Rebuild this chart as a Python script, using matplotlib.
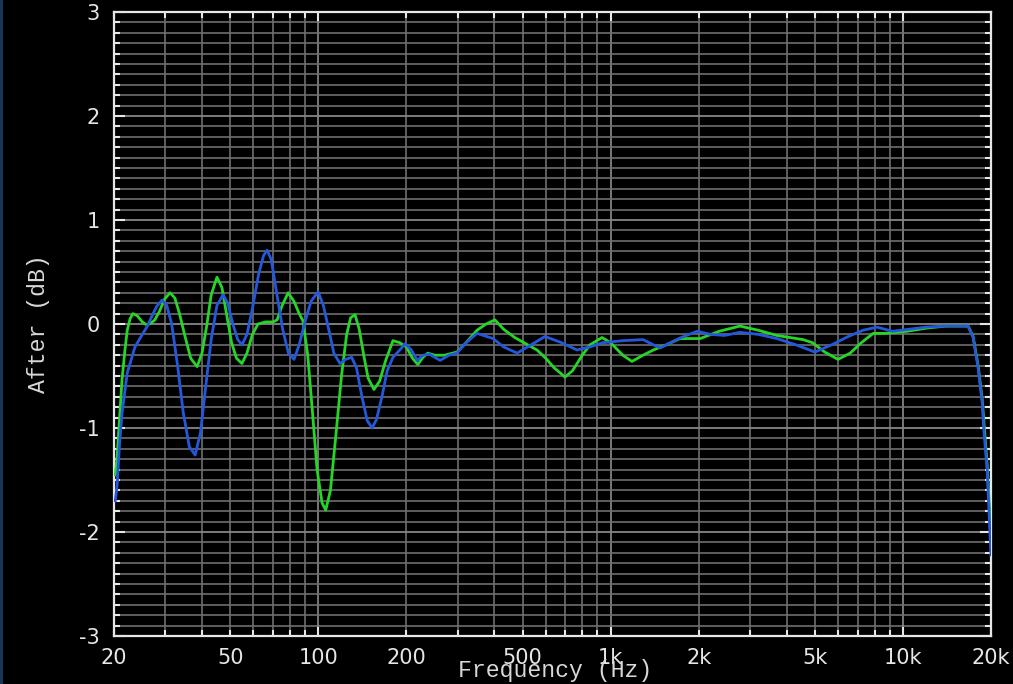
import matplotlib
matplotlib.use('Agg')
import matplotlib.pyplot as plt
from matplotlib.ticker import MultipleLocator, FixedLocator, NullFormatter
from matplotlib.patches import Rectangle

plt.rcParams['axes.unicode_minus'] = False

# green trace (Hz, dB)
freq_green = [20.2, 20.5, 20.9, 21.3, 21.8, 22.2, 22.7, 23.2, 24.0, 25.0, 25.9, 26.8, 27.6, 28.6, 29.8,
              31.1, 32.3, 33.5, 35.0, 36.6, 38.5, 40.0, 41.5, 43.0, 45.0, 46.8, 48.5, 50.5, 52.5, 54.8,
              57.0, 59.5, 62.2, 66.0, 70.0, 72.3, 75.0, 78.8, 82.5, 86.0, 88.6, 92.0, 95.5, 99.0, 103.0,
              106.0, 110.0, 115.0, 120.0, 125.0, 129.0, 133.5, 138.0, 143.0, 148.0, 155.0, 162.0, 170.0,
              180.0, 190.0, 200.0, 210.0, 219.0, 228.0, 237.0, 250.0, 270.0, 298.0, 320.0, 349.0, 375.0,
              402.0, 430.0, 470.0, 520.0, 560.0, 600.0, 640.0, 698.0, 740.0, 800.0, 850.0, 934.0, 1000.0,
              1100.0, 1183.0, 1290.0, 1400.0, 1550.0, 1726.0, 2024.0, 2350.0, 2770.0, 3200.0, 3700.0,
              4550.0, 4900.0, 5400.0, 5995.0, 6600.0, 7200.0, 7910.0, 8700.0, 10330.0, 12000.0, 14000.0,
              16000.0, 16700.0, 17370.0, 18070.0, 18650.0, 19400.0, 19700.0, 20000.0]
db_green = [-1.45, -1.28, -0.90, -0.54, -0.25, -0.06, 0.05, 0.10, 0.08, 0.02, -0.01, 0.01, 0.04, 0.12, 0.24,
            0.30, 0.25, 0.10, -0.12, -0.33, -0.41, -0.28, -0.02, 0.28, 0.45, 0.35, 0.10, -0.18, -0.33, -0.38,
            -0.28, -0.10, 0.00, 0.02, 0.02, 0.04, 0.17, 0.30, 0.22, 0.10, 0.03, -0.30, -0.85, -1.40, -1.72,
            -1.79, -1.60, -1.05, -0.50, -0.10, 0.06, 0.09, -0.05, -0.30, -0.52, -0.63, -0.55, -0.35,
            -0.16, -0.18, -0.22, -0.33, -0.39, -0.32, -0.28, -0.30, -0.30, -0.27, -0.18, -0.06, 0.00,
            0.04, -0.05, -0.13, -0.20, -0.25, -0.33, -0.42, -0.51, -0.45, -0.30, -0.20, -0.13, -0.18,
            -0.30, -0.36, -0.30, -0.25, -0.20, -0.14, -0.14, -0.07, -0.02, -0.06, -0.11,
            -0.15, -0.18, -0.27, -0.34, -0.28, -0.18, -0.09, -0.09, -0.07, -0.04, -0.02,
            -0.02, -0.02, -0.12, -0.40, -0.72, -1.35, -1.70, -1.95]

# blue trace (Hz, dB)
freq_blue = [20.2, 20.5, 20.9, 21.3, 22.2, 23.6, 25.0, 25.9, 27.0, 28.0, 29.2, 30.3, 31.5, 33.0, 34.5,
             36.2, 37.9, 39.5, 41.0, 43.0, 45.0, 47.2, 49.0, 51.0, 53.0, 54.8, 57.0, 59.5, 62.5, 65.0,
             66.8, 69.0, 72.0, 75.5, 79.0, 82.6, 86.0, 90.0, 94.5, 99.8, 104.0, 108.5, 113.0, 118.6,
             124.0, 130.0, 135.0, 141.0, 147.0, 152.7, 158.0, 165.0, 172.0, 180.0, 190.0, 198.0, 208.0,
             218.0, 228.0, 240.0, 250.0, 261.0, 280.0, 298.0, 320.0, 349.0, 396.0, 430.0, 479.0, 520.0,
             596.0, 680.0, 767.0, 850.0, 940.0, 1100.0, 1291.0, 1400.0, 1476.0, 1726.0, 1975.0, 2200.0,
             2450.0, 2770.0, 3200.0, 3700.0, 4300.0, 5000.0, 5700.0, 6500.0, 7300.0, 8150.0, 9200.0,
             10500.0, 12000.0, 14000.0, 16700.0, 17370.0, 18070.0, 18650.0, 18940.0, 19400.0, 19860.0,
             20000.0]
db_blue = [-1.70, -1.55, -1.15, -0.86, -0.47, -0.22, -0.10, -0.03, 0.08, 0.17, 0.23, 0.18, 0.00, -0.40, -0.85,
           -1.18, -1.26, -1.05, -0.65, -0.15, 0.18, 0.28, 0.20, 0.00, -0.15, -0.20, -0.10, 0.15, 0.48, 0.66,
           0.71, 0.62, 0.30, -0.05, -0.28, -0.34, -0.20, 0.02, 0.22, 0.31, 0.18, -0.05, -0.28, -0.38,
           -0.34, -0.32, -0.42, -0.70, -0.93, -1.00, -0.92, -0.70, -0.45, -0.32, -0.25, -0.19, -0.25,
           -0.35, -0.30, -0.29, -0.32, -0.35, -0.30, -0.28, -0.18, -0.09, -0.14, -0.22, -0.28, -0.22,
           -0.12, -0.18, -0.25, -0.22, -0.18, -0.16, -0.15, -0.20, -0.23, -0.135, -0.07, -0.10,
           -0.11, -0.08, -0.10, -0.14, -0.20, -0.27, -0.20, -0.12, -0.06, -0.03, -0.07,
           -0.05, -0.03, -0.02, -0.02, -0.13, -0.42, -0.75, -1.05, -1.40, -2.05,
           -2.22]

label_freqs = [20, 50, 100, 200, 500, 1000, 2000, 5000, 10000, 20000]
label_texts = ['20', '50', '100', '200', '500', '1k', '2k', '5k', '10k', '20k']
other_freqs = [30, 40, 60, 70, 80, 90, 300, 400, 600, 700, 800, 900,
               3000, 4000, 6000, 7000, 8000, 9000]
decades = [100, 1000, 10000]

fig = plt.figure(figsize=(10.13, 6.84), dpi=100, facecolor='black')
ax = fig.add_axes([114/1013, 1-636/684, 877/1013, 624/684])
ax.set_facecolor('black')
fig.patches.append(Rectangle((0, 0), 3/1013, 1, transform=fig.transFigure,
                             facecolor='#173658', edgecolor='none'))

ax.set_xscale('log')
ax.set_xlim(20, 20000)
ax.set_ylim(-3, 3)

ax.xaxis.set_major_locator(FixedLocator(label_freqs))
ax.xaxis.set_minor_locator(FixedLocator(other_freqs))
ax.xaxis.set_minor_formatter(NullFormatter())
ax.set_xticklabels(label_texts)
ax.yaxis.set_major_locator(MultipleLocator(1))
ax.yaxis.set_minor_locator(MultipleLocator(0.1))

ax.grid(which='both', axis='both', color='#6e6e6e', linewidth=1.2)
ax.grid(which='major', axis='y', color='#858585', linewidth=1.3)
for d in decades:
    ax.axvline(d, color='#9e9e9e', linewidth=1.4, zorder=1)

ax.tick_params(which='both', direction='in', colors='#e6e6e6', top=True, right=True,
               labelsize=15)
ax.tick_params(axis='x', which='both', length=4, width=1.5, pad=9)
ax.tick_params(axis='y', which='major', length=8, width=1.5, pad=10)
ax.tick_params(axis='y', which='minor', length=4, width=1.5)
for t, f in zip(ax.xaxis.get_major_ticks(), label_freqs):
    if f in decades:
        t.tick1line.set_markersize(8)
        t.tick2line.set_markersize(8)
for lab in ax.get_xticklabels() + ax.get_yticklabels():
    lab.set_family('DejaVu Sans')
    lab.set_color('#e6e6e6')

for s in ax.spines.values():
    s.set_color('#e6e6e6')
    s.set_linewidth(1.6)

ax.plot(freq_green, db_green, color='#26d626', linewidth=2.0, zorder=3, solid_joinstyle='round')
ax.plot(freq_blue, db_blue, color='#2458dc', linewidth=2.0, zorder=4, solid_joinstyle='round')

# axis titles sit over the tick labels, as in the original screen
ax.set_xlabel('Frequency (Hz)', family='Liberation Mono', fontsize=16.7, color='#d8d8d8')
ax.xaxis.set_label_coords(0.503, -0.037)
ax.set_ylabel('After (dB)', family='Liberation Mono', fontsize=16.7, color='#d8d8d8')
ax.yaxis.set_label_coords(-0.073, 0.5)

fig.savefig('out.png', dpi=100, facecolor='black')
